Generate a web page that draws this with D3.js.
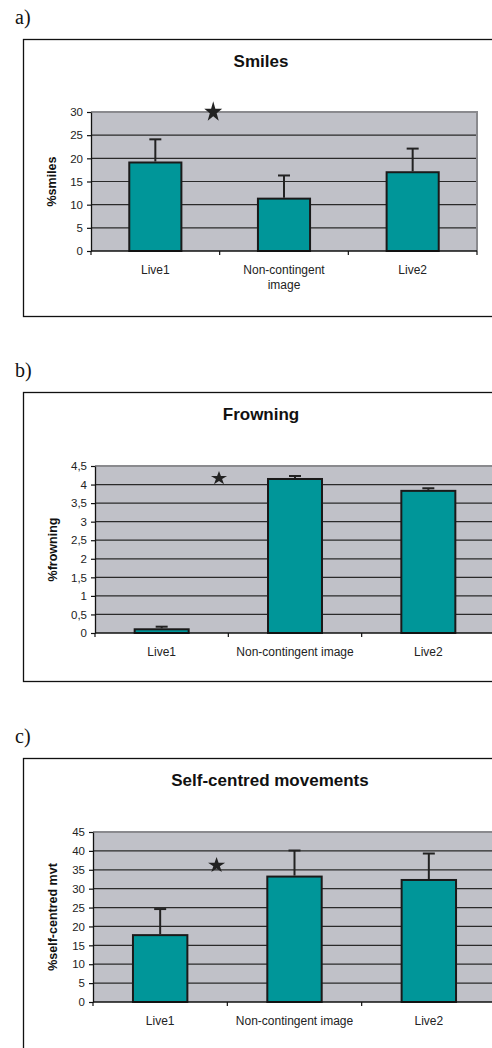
<!DOCTYPE html>
<html>
<head>
<meta charset="utf-8">
<script src="https://cdn.jsdelivr.net/npm/d3@7"></script>
<style>
  html, body { margin: 0; padding: 0; background: #fff; }
  svg { display: block; }
</style>
</head>
<body>
<script>
// Conditions shown on every x axis
const conditions = ["Live1", "Non-contingent image", "Live2"];

// a) Smiles
const smilesMean = [19.1, 11.3, 17.0];
const smilesErrTop = [24.1, 16.3, 22.1];
const smilesTicks = [0, 5, 10, 15, 20, 25, 30];
const smilesStar = 30;

// b) Frowning
const frowningMean = [0.1, 4.15, 3.83];
const frowningErrTop = [0.17, 4.23, 3.9];
const frowningTicks = [0, 0.5, 1, 1.5, 2, 2.5, 3, 3.5, 4, 4.5];
const frowningStar = 4.17;

// c) Self-centred movements
const selfMean = [17.7, 33.2, 32.3];
const selfErrTop = [24.6, 40.1, 39.3];
const selfTicks = [0, 5, 10, 15, 20, 25, 30, 35, 40, 45];
const selfStar = 36.2;

const W = 492, H = 1048;
const SANS = "'Liberation Sans', Arial, Helvetica, sans-serif";
const SERIF = "'Liberation Serif', 'Times New Roman', serif";
const BAR_FILL = "#009699";
const PLOT_BG = "#c0c1c8";

const svg = d3.select("body").append("svg")
  .attr("width", W).attr("height", H)
  .attr("viewBox", `0 0 ${W} ${H}`);

const commaFmt = v => String(v).replace(".", ",");

function drawPanel(o) {
  const g = svg.append("g");

  // panel letter
  g.append("text")
    .attr("x", 15).attr("y", o.labelY)
    .attr("font-family", SERIF).attr("font-size", 20)
    .attr("fill", "#111")
    .text(o.label);

  // chart frame (runs off the right edge)
  g.append("rect")
    .attr("x", 23.5).attr("y", o.boxTop + 0.5)
    .attr("width", W).attr("height", o.boxBottom - o.boxTop)
    .attr("fill", "none").attr("stroke", "#111").attr("stroke-width", 1.3);

  // title
  g.append("text")
    .attr("x", o.titleX).attr("y", o.titleY)
    .attr("text-anchor", "middle")
    .attr("font-family", SANS).attr("font-weight", "bold").attr("font-size", 17)
    .attr("fill", "#111")
    .text(o.title);

  const p = o.plot;
  const x = d3.scaleBand().domain(conditions).range([p.l, p.r]).padding(0);
  const y = d3.scaleLinear().domain([0, d3.max(o.ticks)]).range([p.b, p.t]);

  // plot area
  g.append("rect")
    .attr("x", p.l).attr("y", p.t)
    .attr("width", p.r - p.l).attr("height", p.b - p.t)
    .attr("fill", PLOT_BG);

  // gridlines
  const maxTick = d3.max(o.ticks);
  g.append("g").selectAll("line")
    .data(o.ticks.filter(t => t > 0 && t < maxTick))
    .join("line")
    .attr("x1", p.l).attr("x2", p.r)
    .attr("y1", d => y(d)).attr("y2", d => y(d))
    .attr("stroke", "#2a2a2a").attr("stroke-width", 1.2);

  // plot area border (top and right)
  g.append("path")
    .attr("d", `M${p.l},${y(maxTick)}H${p.r}V${p.b}`)
    .attr("fill", "none").attr("stroke", "#8a8a8e").attr("stroke-width", 2);

  // bars
  const bw = x.bandwidth() * 0.405;
  const cx = d => x(d) + x.bandwidth() / 2;
  g.append("g").selectAll("rect")
    .data(conditions)
    .join("rect")
    .attr("x", d => cx(d) - bw / 2)
    .attr("y", (d, i) => y(o.values[i]))
    .attr("width", bw)
    .attr("height", (d, i) => y(0) - y(o.values[i]))
    .attr("fill", BAR_FILL)
    .attr("stroke", "#1a1a1a").attr("stroke-width", 2);

  // upper error whiskers
  const eg = g.append("g").attr("stroke", "#222").attr("stroke-width", 2);
  conditions.forEach((d, i) => {
    eg.append("line")
      .attr("x1", cx(d)).attr("x2", cx(d))
      .attr("y1", y(o.values[i]) - 1).attr("y2", y(o.errTop[i]));
    eg.append("line")
      .attr("x1", cx(d) - 6).attr("x2", cx(d) + 6)
      .attr("y1", y(o.errTop[i])).attr("y2", y(o.errTop[i]));
  });

  // y axis
  const yAxis = g.append("g")
    .attr("transform", `translate(${p.l},0)`)
    .call(d3.axisLeft(y).tickValues(o.ticks).tickSize(4).tickSizeOuter(0)
      .tickPadding(4).tickFormat(commaFmt));
  yAxis.select(".domain").attr("stroke", "#111").attr("stroke-width", 1.3);
  yAxis.selectAll(".tick line").attr("stroke", "#111").attr("stroke-width", 1.2);
  yAxis.selectAll(".tick text")
    .attr("font-family", SANS).attr("font-size", 11.5).attr("fill", "#222");

  // x axis with tick marks on category boundaries
  const bounds = conditions.map(d => x(d)).concat([x.range()[1]]);
  const xg = g.append("g").attr("stroke", "#111");
  xg.append("line")
    .attr("x1", p.l).attr("x2", p.r).attr("y1", p.b).attr("y2", p.b)
    .attr("stroke-width", 1.5);
  xg.selectAll("line.bt").data(bounds).join("line")
    .attr("class", "bt")
    .attr("x1", d => d).attr("x2", d => d)
    .attr("y1", p.b).attr("y2", p.b + 4)
    .attr("stroke-width", 1.2);

  const xl = g.append("g").selectAll("text")
    .data(conditions).join("text")
    .attr("x", d => cx(d)).attr("y", p.b + 23)
    .attr("text-anchor", "middle")
    .attr("font-family", SANS).attr("font-size", 12).attr("fill", "#222");
  if (o.wrap) {
    xl.each(function (d) {
      const words = d === "Non-contingent image" ? ["Non-contingent", "image"] : [d];
      const t = d3.select(this);
      words.forEach((w, k) => {
        t.append("tspan").attr("x", cx(d)).attr("dy", k === 0 ? 0 : 15).text(w);
      });
    });
  } else {
    xl.text(d => d);
  }

  // y axis title
  g.append("text")
    .attr("transform", `translate(${o.yLabelX},${(p.t + p.b) / 2}) rotate(-90)`)
    .attr("text-anchor", "middle").attr("dominant-baseline", "central")
    .attr("font-family", SANS).attr("font-weight", "bold").attr("font-size", 12.5)
    .attr("fill", "#111")
    .text(o.yLabel);

  // significance star near the first category boundary
  const starX = x(conditions[0]) + x.bandwidth() * o.star.frac;
  const starPath = d3.symbol(d3.symbolStar, 100)();
  g.append("path")
    .attr("d", starPath)
    .attr("transform", `translate(${starX},${y(o.star.value)}) scale(${o.star.sx},${o.star.sy})`)
    .attr("fill", "#222");
}

drawPanel({
  label: "a)", labelY: 24,
  boxTop: 39, boxBottom: 316,
  title: "Smiles", titleX: 261, titleY: 67,
  plot: { l: 91, r: 477, t: 112, b: 251 },
  values: smilesMean, errTop: smilesErrTop, ticks: smilesTicks,
  yLabel: "%smiles", yLabelX: 52,
  star: { value: smilesStar, frac: 0.95, sx: 1.0, sy: 1.15 },
  wrap: true
});

drawPanel({
  label: "b)", labelY: 377,
  boxTop: 392, boxBottom: 681,
  title: "Frowning", titleX: 261, titleY: 420,
  plot: { l: 95, r: 495, t: 466, b: 633 },
  values: frowningMean, errTop: frowningErrTop, ticks: frowningTicks,
  yLabel: "%frowning", yLabelX: 53,
  star: { value: frowningStar, frac: 0.93, sx: 0.9, sy: 0.78 },
  wrap: false
});

drawPanel({
  label: "c)", labelY: 743,
  boxTop: 758, boxBottom: 1100,
  title: "Self-centred movements", titleX: 270, titleY: 786,
  plot: { l: 93, r: 496, t: 832, b: 1002 },
  values: selfMean, errTop: selfErrTop, ticks: selfTicks,
  yLabel: "%self-centred mvt", yLabelX: 53,
  star: { value: selfStar, frac: 0.92, sx: 0.95, sy: 0.88 },
  wrap: false
});
</script>
</body>
</html>
